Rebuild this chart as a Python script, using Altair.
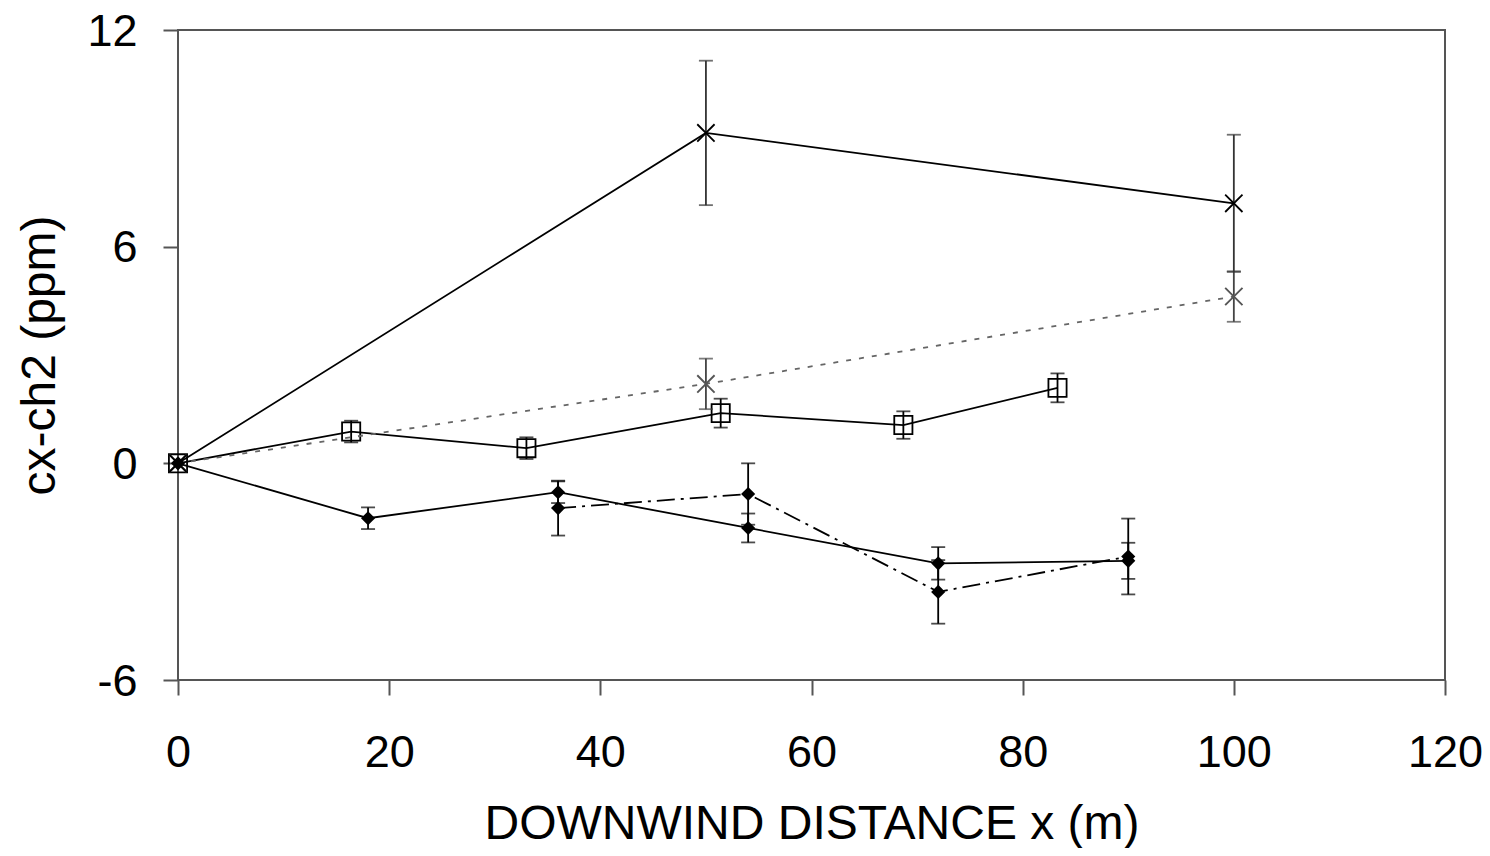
import altair as alt
import pandas as pd

# ---- data ----
A_x = [0, 50, 100]
A_y = [0, 9.15, 7.2]
A_e = [0, 2.0, 1.9]

B_x = [0, 50, 100]
B_y = [0, 2.2, 4.62]
B_e = [0, 0.7, 0.7]

C_x = [0, 16.4, 33.0, 51.4, 68.7, 83.3]
C_y = [0, 0.88, 0.42, 1.39, 1.06, 2.09]
C_e = [0, 0.3, 0.3, 0.4, 0.38, 0.4]

D_x = [0, 18, 36, 54, 72, 90]
D_y = [0, -1.52, -0.80, -1.79, -2.77, -2.7]
D_e = [0, 0.3, 0.3, 0.4, 0.45, 0.5]

E_x = [36, 54, 72, 90]
E_y = [-1.24, -0.85, -3.56, -2.58]
E_e = [0.76, 0.85, 0.88, 1.05]

X_TICKS = [0, 20, 40, 60, 80, 100, 120]
Y_TICKS = [-6, 0, 6, 12]


def frame(xs, ys, es):
    df = pd.DataFrame({"x": xs, "y": ys, "e": es})
    df["lo"] = df["y"] - df["e"]
    df["hi"] = df["y"] + df["e"]
    return df


XS = alt.Scale(domain=[0, 120], nice=False, zero=False)
YS = alt.Scale(domain=[-6, 12], nice=False, zero=False)

FONT = "Liberation Sans"

x_enc = alt.X("x:Q", scale=XS, title="DOWNWIND DISTANCE x (m)",
              axis=alt.Axis(values=X_TICKS, grid=False, domain=False,
                            tickSize=15, tickWidth=2, tickColor="#555",
                            labelFontSize=45, labelFont=FONT, labelColor="black",
                            labelPadding=35, titleFontSize=48, titleFont=FONT,
                            titleFontWeight="normal", titleColor="black",
                            titleY=158, titleBaseline="alphabetic",
                            labelExpr="'' + datum.value",
                            labelFlush=False))
y_enc = alt.Y("y:Q", scale=YS, title="cx-ch2 (ppm)",
              axis=alt.Axis(values=Y_TICKS, grid=False, domain=False,
                            tickSize=15, tickWidth=2, tickColor="#555",
                            labelFontSize=45, labelFont=FONT, labelColor="black",
                            labelPadding=26, labelOffset=1, titleFontSize=48,
                            titleFont=FONT, titleFontWeight="normal",
                            titleColor="black", titleX=-124,
                            titleBaseline="alphabetic",
                            labelExpr="'' + datum.value",
                            labelFlush=False))

XMARK = "M-1,-1L1,1M-1,1L1,-1"


def series(df, line_color, dash, err_color, point_kw):
    base = alt.Chart(df)
    layers = []
    lk = dict(color=line_color, strokeWidth=1.8)
    if dash:
        lk["strokeDash"] = dash
    layers.append(base.mark_line(**lk).encode(x=x_enc, y=y_enc))
    eb = base.transform_filter("datum.e > 0")
    layers.append(eb.mark_rule(color=err_color, strokeWidth=1.8).encode(
        x="x:Q", y="lo:Q", y2="hi:Q"))
    layers.append(eb.mark_tick(color=err_color, orient="horizontal", size=14,
                               thickness=1.8).encode(x="x:Q", y="lo:Q"))
    layers.append(eb.mark_tick(color=err_color, orient="horizontal", size=14,
                               thickness=1.8).encode(x="x:Q", y="hi:Q"))
    layers.append(base.mark_point(opacity=1, **point_kw).encode(x="x:Q", y="y:Q"))
    return layers


layers = []
layers += series(frame(C_x, C_y, C_e), "black", None, "black",
                 dict(shape="square", filled=False, size=330, color="black", strokeWidth=1.8))
layers += series(frame(B_x, B_y, B_e), "#666", [5, 8], "#444",
                 dict(shape=XMARK, filled=False, size=300, color="#555", strokeWidth=1.9))
layers += series(frame(A_x, A_y, A_e), "black", None, "#333",
                 dict(shape=XMARK, filled=False, size=300, color="black", strokeWidth=1.8))
layers += series(frame(E_x, E_y, E_e), "black", [18, 6, 3, 6], "black",
                 dict(shape="diamond", filled=True, size=200, color="black"))
layers += series(frame(D_x, D_y, D_e), "black", None, "black",
                 dict(shape="diamond", filled=True, size=200, color="black"))

chart = alt.layer(*layers).properties(
    width=1267, height=650,
    autosize="none",
    background="white",
    padding={"left": 170, "top": 22, "right": 37, "bottom": 168},
).configure_view(stroke="#555", strokeWidth=2)

chart.save("out.html", embed_options={"renderer": "svg", "actions": False})
